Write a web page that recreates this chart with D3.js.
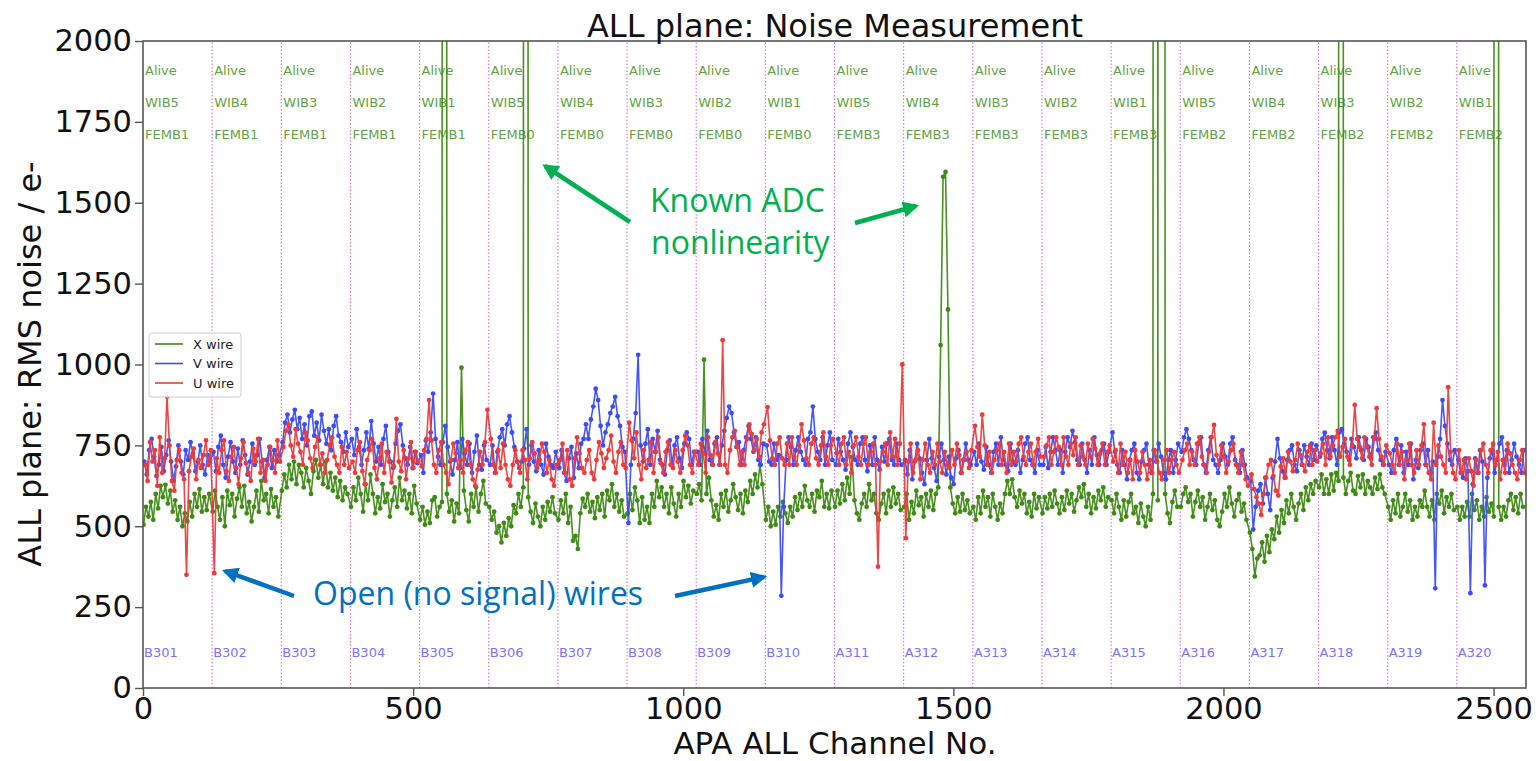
<!DOCTYPE html>
<html>
<head>
<meta charset="utf-8">
<script src="https://cdn.jsdelivr.net/npm/d3@7/dist/d3.min.js"></script>
<style>
  body { margin: 0; background: #fff; }
  svg { display: block; }
</style>
</head>
<body>
<svg id="chart" width="1539" height="761"></svg>
<script>
// ---------------- DATA ----------------
const xTicks = [0, 500, 1000, 1500, 2000, 2500];
const yTicks = [0, 250, 500, 750, 1000, 1250, 1500, 1750, 2000];
const femb = 128;
const boardLabels = ["B301","B302","B303","B304","B305","B306","B307","B308","B309","B310",
                     "A311","A312","A313","A314","A315","A316","A317","A318","A319","A320"];
const wibLabels = ["WIB5","WIB4","WIB3","WIB2","WIB1","WIB5","WIB4","WIB3","WIB2","WIB1",
                   "WIB5","WIB4","WIB3","WIB2","WIB1","WIB5","WIB4","WIB3","WIB2","WIB1"];
const fembLabels = ["FEMB1","FEMB1","FEMB1","FEMB1","FEMB1","FEMB0","FEMB0","FEMB0","FEMB0","FEMB0",
                    "FEMB3","FEMB3","FEMB3","FEMB3","FEMB3","FEMB2","FEMB2","FEMB2","FEMB2","FEMB2"];
const statusLabels = ["Alive","Alive","Alive","Alive","Alive","Alive","Alive","Alive","Alive","Alive",
                      "Alive","Alive","Alive","Alive","Alive","Alive","Alive","Alive","Alive","Alive"];
const seriesNames = ["X wire", "V wire", "U wire"];

// RMS noise (e-) of sampled channels, one row per FEMB block of 128 channels
const xWire = [
 [505,560,530,575,520,600,555,625,590,628,570,610,545,580,520,560,500,540,515,575,530,600,560,615,545,590,550,600],
 [545,610,560,520,590,500,610,565,600,530,585,620,560,625,540,575,515,560,610,545,640,580,600,540,615,560,590,530],
 [610,660,620,690,645,700,630,690,665,620,680,640,600,670,705,650,690,630,700,620,665,610,650,590,640,580,620,600],
 [560,620,580,650,600,545,630,580,660,600,540,590,555,630,575,600,530,580,620,560,650,580,610,555,600,540,625,570],
 [520,560,505,545,510,580,590,530,560,575,25000,600,545,580,515,570,540,990,610,550,515,600,560,620,545,600,640,570],
 [560,520,545,480,500,450,510,470,525,500,565,540,600,560,620,25000,590,545,510,570,530,500,560,520,575,545,590,540],
 [520,580,540,600,510,560,455,470,430,540,585,560,600,545,575,525,590,550,600,530,610,580,630,560,600,545,580,530],
 [540,600,550,620,580,510,590,520,560,510,600,560,640,590,620,560,600,540,620,570,530,600,560,640,590,625,570,610],
 [600,630,580,1015,600,650,580,530,565,520,600,560,610,545,580,630,590,550,600,540,610,575,640,600,660,620,690,630],
 [520,560,500,545,505,560,530,575,540,510,560,530,590,550,600,560,625,580,560,600,545,610,590,640,560,600,555,610],
 [560,610,570,630,580,650,600,714,580,540,520,570,600,560,630,580,600,540,520,570,600,540,610,560,620,570,600,550],
 [560,600,520,575,540,610,565,590,530,600,560,610,550,600,620,1060,1580,1595,1170,620,570,540,590,545,600,550,580,540],
 [560,520,590,540,610,560,590,530,600,560,520,570,540,600,640,600,645,590,560,610,570,600,540,575,530,600,555,590],
 [540,590,555,600,560,610,570,540,590,550,610,570,600,545,580,620,590,630,560,600,540,590,555,610,580,620,560,590],
 [580,540,600,560,520,580,530,575,600,540,560,510,570,530,500,560,520,600,30000,580,30000,30000,600,540,510,575,610,560],
 [560,600,620,575,600,530,575,610,560,590,520,560,600,550,580,520,500,545,600,560,620,570,530,580,600,545,570,520],
 [480,430,345,400,410,450,390,470,420,490,460,530,480,550,510,580,540,600,560,520,570,600,550,620,580,630,600,640],
 [620,660,600,645,600,660,610,665,640,30000,650,600,640,665,610,600,655,620,660,600,640,620,600,650,615,660,620,600],
 [560,520,580,540,600,530,560,600,545,580,520,560,530,580,560,610,560,530,580,520,600,570,610,540,590,560,600,550],
 [560,520,560,530,575,530,600,550,580,520,560,530,590,545,570,530,30000,560,520,560,530,580,600,550,590,540,600,560]
];
const vWire = [
 [700,660,735,770,715,655,690,745,670,720,765,700,640,685,750,700,660,735,705,760,725,670,700,750,690,660,720,700],
 [730,670,745,780,690,650,715,760,700,665,740,690,765,720,660,700,755,690,720,770,700,650,705,745,680,735,700,720],
 [760,820,845,790,830,860,800,835,770,815,750,840,855,780,820,765,845,795,755,800,735,810,840,780,760,730,790,745],
 [770,720,800,745,690,735,790,740,825,755,700,745,690,770,810,730,700,680,755,795,815,750,710,690,745,680,730,695],
 [720,665,765,730,790,910,770,715,690,760,810,745,700,660,705,760,680,770,725,690,755,665,730,780,690,675,750,705],
 [690,750,665,730,775,800,750,815,840,790,745,700,680,700,740,800,690,750,700,670,735,690,660,755,715,690,680,730],
 [680,735,665,640,710,745,650,725,680,755,770,815,770,830,870,925,890,810,750,790,815,850,870,900,840,810,745,730],
 [510,690,770,850,1030,750,700,755,800,690,770,730,795,705,690,660,735,765,690,750,775,710,680,755,790,770,690,730],
 [730,690,770,725,795,705,690,755,775,690,750,795,835,870,850,790,745,760,690,735,775,810,770,730,775,705,690,755],
 [750,700,690,755,705,720,285,560,705,775,745,690,735,775,730,705,690,770,790,870,770,730,705,775,690,750,790,705],
 [690,770,730,705,675,755,790,745,705,690,755,775,705,670,750,690,775,705,675,745,700,755,770,705,690,755,705,690],
 [705,660,735,645,700,755,710,665,630,705,770,710,680,640,715,755,705,660,715,650,630,710,735,665,705,755,705,690],
 [730,690,755,700,675,745,690,665,730,755,690,775,705,690,670,755,700,690,735,665,705,755,775,705,690,665,735,690],
 [690,745,680,730,775,735,690,735,665,730,775,745,795,760,705,690,755,705,665,735,690,775,720,690,735,755,690,730],
 [790,730,690,665,735,690,645,705,735,755,665,645,700,735,755,690,665,735,700,755,715,665,645,705,735,665,705,755],
 [730,775,800,770,735,705,690,755,775,690,665,735,775,705,690,665,705,755,715,690,755,775,705,690,665,735,690,650],
 [640,490,560,610,630,570,650,600,550,650,700,770,710,670,650,705,735,750,690,670,735,690,750,715,690,755,705,750],
 [715,770,789,735,710,775,735,690,790,800,755,730,705,770,745,710,775,735,705,770,745,710,775,790,735,705,690,730],
 [690,665,735,770,690,750,665,730,690,755,645,705,680,735,755,690,735,665,700,308,715,770,890,810,755,705,690,735],
 [705,665,650,710,670,293,630,710,665,735,700,317,650,710,735,665,705,755,775,690,735,665,705,755,715,690,665,735]
];
const uWire = [
 [690,640,760,700,735,625,775,665,710,900,750,640,610,705,735,665,645,350,670,715,740,645,705,680,720,765,690,735],
 [355,710,665,735,765,670,640,715,745,680,630,710,760,695,665,640,740,700,770,665,705,640,690,745,705,665,765,700],
 [745,795,815,750,715,800,755,730,690,790,765,710,680,745,775,690,725,665,705,750,775,715,690,665,745,690,730,680],
 [700,665,735,760,670,630,705,735,770,680,645,710,755,665,730,700,635,685,832,700,670,735,645,710,760,680,730,700],
 [685,735,770,890,765,690,665,735,760,690,665,630,705,755,725,680,705,665,735,760,690,645,625,675,730,690,760,860],
 [770,690,665,735,680,755,690,645,625,690,735,700,665,735,705,645,710,760,725,680,705,755,730,665,705,645,625,690],
 [705,755,665,735,645,625,710,775,725,680,665,705,735,665,645,705,760,725,680,710,735,780,700,665,730,760,690,680],
 [820,765,710,790,690,645,735,680,705,760,665,730,775,695,665,730,760,690,680,735,700,665,735,780,750,690,665,730],
 [690,755,725,665,775,720,690,760,725,690,1075,690,665,735,775,795,745,690,730,690,770,815,785,735,770,715,790,815],
 [868,765,710,690,755,775,710,690,755,690,775,715,690,750,815,765,710,690,755,775,710,690,750,790,715,690,750,770],
 [725,690,755,775,690,730,665,750,775,715,690,755,775,690,730,755,690,375,700,730,755,690,790,715,770,690,755,1000],
 [463,700,755,665,705,735,645,705,755,690,665,730,690,755,700,665,730,690,680,735,690,755,720,665,705,730,680,735],
 [810,745,715,845,750,690,730,665,705,735,755,690,730,665,755,690,730,700,755,775,715,690,730,755,690,730,770,715],
 [715,750,775,690,730,775,745,690,775,715,690,755,720,775,690,750,715,690,755,715,770,740,690,725,755,690,730,750],
 [700,735,665,755,690,730,665,705,645,735,700,665,730,690,645,705,665,735,700,665,645,705,735,665,705,730,690,665],
 [705,735,755,690,730,690,755,775,715,690,665,730,775,813,720,690,750,715,665,700,735,755,690,665,730,690,645,625],
 [660,615,590,570,535,600,650,690,705,655,610,595,685,710,650,730,700,670,705,755,720,690,670,730,750,690,735,700],
 [725,755,690,775,715,750,775,795,715,745,770,715,690,750,875,770,745,710,775,745,715,690,770,865,770,715,690,750],
 [725,690,665,755,690,730,645,705,755,690,665,735,690,750,815,690,665,645,820,690,750,715,690,665,930,730,665,645],
 [735,665,705,645,710,670,625,705,665,735,755,690,665,735,755,690,730,645,705,665,755,725,690,665,645,705,735,665]
];
const channelOffsets = [1, 2.5, 4];   // first sampled channel inside each FEMB block
const sampleStep = 4.5;               // channels between plotted samples
const seriesColors = ["#3f8a14", "#3b4cfb", "#ec3b3b"];

// ---------------- CHART ----------------
const svg = d3.select("#chart");
const W = 1539, H = 761;
svg.append("rect").attr("width", W).attr("height", H).attr("fill", "#fff");

const x = d3.scaleLinear().domain([0, 2560]).range([143, 1526]);
const y = d3.scaleLinear().domain([0, 2000]).range([688, 41]);

const defs = svg.append("defs");
defs.append("clipPath").attr("id", "plotclip")
  .append("rect").attr("x", 143).attr("y", 41).attr("width", 1526 - 143).attr("height", 688 - 41);

const plot = svg.append("g").attr("clip-path", "url(#plotclip)");

// FEMB boundaries
const bounds = d3.range(1, 20).map(i => i * femb);
plot.selectAll("line.bound").data(bounds).enter().append("line")
  .attr("x1", d => x(d)).attr("x2", d => x(d))
  .attr("y1", y(0)).attr("y2", y(2000))
  .attr("stroke", "#d36ce6").attr("stroke-width", 1.1)
  .attr("stroke-dasharray", "1.5,2");

// block labels
const blocks = d3.range(20);
const topColor = "#5fa345";
[[statusLabels, 75], [wibLabels, 107], [fembLabels, 139]].forEach(([arr, yy]) => {
  plot.selectAll(null).data(blocks).enter().append("text")
    .attr("x", d => x(d * femb) + 2).attr("y", yy)
    .attr("font-family", "DejaVu Sans").attr("font-size", 13)
    .attr("fill", topColor).text(d => arr[d]);
});
plot.selectAll(null).data(blocks).enter().append("text")
  .attr("x", d => x(d * femb) + 1).attr("y", 657)
  .attr("font-family", "DejaVu Sans").attr("font-size", 13)
  .attr("fill", "#7b72ff").text(d => boardLabels[d]);

// series
const allSeries = [xWire, vWire, uWire].map((rows, s) =>
  rows.flatMap((row, b) => row.map((v, k) => ({ ch: b * femb + channelOffsets[s] + k * sampleStep, v: v }))));
const line = d3.line().x(d => x(d.ch)).y(d => y(d.v));
allSeries.forEach((pts, s) => {
  const g = plot.append("g");
  g.append("path").datum(pts).attr("d", line)
    .attr("fill", "none").attr("stroke", seriesColors[s])
    .attr("stroke-width", 1.6).attr("stroke-linejoin", "round").attr("opacity", 0.95);
  g.selectAll("circle").data(pts).enter().append("circle")
    .attr("cx", d => x(d.ch)).attr("cy", d => y(d.v)).attr("r", 2.4)
    .attr("fill", seriesColors[s]);
});

// frame
svg.append("rect").attr("x", 143).attr("y", 41).attr("width", 1526 - 143).attr("height", 688 - 41)
  .attr("fill", "none").attr("stroke", "#555").attr("stroke-width", 1.6);

// axes
const xAxis = svg.append("g").attr("transform", "translate(0,688)")
  .call(d3.axisBottom(x).tickValues(xTicks).tickSize(8).tickPadding(1).tickFormat(d3.format("d")));
const yAxis = svg.append("g").attr("transform", "translate(143,0)")
  .call(d3.axisLeft(y).tickValues(yTicks).tickSize(8).tickPadding(3).tickFormat(d3.format("d")));
[xAxis, yAxis].forEach(a => {
  a.select(".domain").remove();
  a.selectAll(".tick line").attr("stroke", "#555").attr("stroke-width", 1.4);
  a.selectAll(".tick text").attr("font-family", "DejaVu Sans").attr("font-size", 30.5).attr("fill", "#111");
});

// titles
svg.append("text").attr("x", 835).attr("y", 37).attr("text-anchor", "middle")
  .attr("font-family", "DejaVu Sans").attr("font-size", 32).attr("fill", "#111")
  .text("ALL plane: Noise Measurement");
svg.append("text").attr("x", 835).attr("y", 754).attr("text-anchor", "middle")
  .attr("font-family", "DejaVu Sans").attr("font-size", 31).attr("fill", "#111")
  .text("APA ALL Channel No.");
svg.append("text").attr("transform", "translate(41,364) rotate(-90)").attr("text-anchor", "middle")
  .attr("font-family", "DejaVu Sans").attr("font-size", 32).attr("fill", "#111")
  .text("ALL plane: RMS noise / e-");

// legend
const lg = svg.append("g");
lg.append("rect").attr("x", 149).attr("y", 333).attr("width", 92).attr("height", 64).attr("rx", 3)
  .attr("fill", "#fff").attr("fill-opacity", 0.85).attr("stroke", "#ccc");
seriesNames.forEach((n, i) => {
  const yy = 344 + i * 19.5;
  lg.append("line").attr("x1", 155).attr("x2", 183).attr("y1", yy).attr("y2", yy)
    .attr("stroke", seriesColors[i]).attr("stroke-width", 1.6);
  lg.append("text").attr("x", 193).attr("y", yy + 4.5).attr("font-family", "DejaVu Sans")
    .attr("font-size", 13).attr("fill", "#222").text(n);
});

// annotations
function marker(id, color) {
  defs.append("marker").attr("id", id).attr("viewBox", "0 0 10 10").attr("refX", 8).attr("refY", 5)
    .attr("markerWidth", 3.6).attr("markerHeight", 3.6).attr("orient", "auto")
    .append("path").attr("d", "M0,0 L10,5 L0,10 z").attr("fill", color);
}
marker("ag", "#00b050");
marker("ab", "#0070c0");
const arrows = [
  [630, 222, 545, 166, "#00b050", "ag"],
  [855, 223, 916, 206, "#00b050", "ag"],
  [294, 596, 225, 571, "#0070c0", "ab"],
  [675, 596, 764, 577, "#0070c0", "ab"]
];
arrows.forEach(a => {
  svg.append("line").attr("x1", a[0]).attr("y1", a[1]).attr("x2", a[2]).attr("y2", a[3])
    .attr("stroke", a[4]).attr("stroke-width", 4.5).attr("marker-end", `url(#${a[5]})`);
});
svg.append("text").attr("x", 650).attr("y", 212).attr("font-family", "Open Sans").attr("font-size", 32)
  .attr("fill", "#00b050").text("Known ADC");
svg.append("text").attr("x", 651).attr("y", 254).attr("font-family", "Open Sans").attr("font-size", 32)
  .attr("fill", "#00b050").text("nonlinearity");
svg.append("text").attr("x", 313).attr("y", 605).attr("font-family", "Open Sans").attr("font-size", 32)
  .attr("fill", "#0070c0").text("Open (no signal) wires");
</script>
</body>
</html>
